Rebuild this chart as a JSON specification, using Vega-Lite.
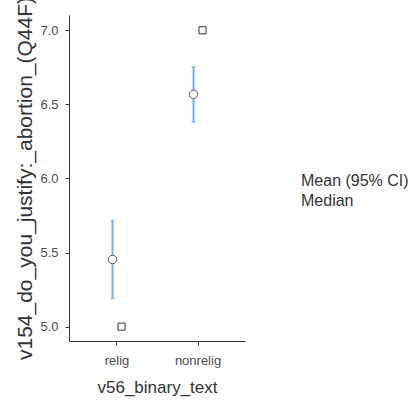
{
  "$schema": "https://vega.github.io/schema/vega-lite/v6.json",
  "autosize": {"type": "none"},
  "padding": {"left": 69, "top": 15, "right": 165, "bottom": 63},
  "width": 176,
  "height": 326,
  "background": "white",
  "config": {
    "view": {"stroke": null},
    "font": "Liberation Sans",
    "axis": {
      "domainColor": "#333333",
      "domainWidth": 1,
      "tickColor": "#333333",
      "tickSize": 4,
      "grid": false,
      "labelFont": "Liberation Sans",
      "labelFontSize": 13,
      "labelColor": "#4d4d4d",
      "titleFont": "Liberation Sans",
      "titleFontWeight": "normal",
      "titleColor": "#333333"
    }
  },
  "datasets": {
    "stats": [
      {"group": "relig", "stat": "Mean (95% CI)", "lower": 5.189, "upper": 5.716},
      {"group": "nonrelig", "stat": "Mean (95% CI)", "lower": 6.380, "upper": 6.755}
    ],
    "points": [
      {"group": "relig", "stat": "Mean (95% CI)", "value": 5.453},
      {"group": "nonrelig", "stat": "Mean (95% CI)", "value": 6.568},
      {"group": "relig", "stat": "Median", "value": 5.0},
      {"group": "nonrelig", "stat": "Median", "value": 7.0}
    ]
  },
  "resolve": {"scale": {"x": "independent"}, "axis": {"x": "independent"}},
  "layer": [
    {
      "data": {"name": "stats"},
      "mark": {"type": "tick", "opacity": 0},
      "encoding": {
        "x": {
          "field": "group",
          "type": "nominal",
          "sort": ["relig", "nonrelig"],
          "scale": {"type": "point", "padding": 0.5864, "align": 0.5},
          "axis": {
            "title": "v56_binary_text",
            "labelAngle": 0,
            "labelPadding": 9,
            "titleFontSize": 17,
            "titlePadding": 12
          }
        },
        "y": {
          "field": "lower",
          "type": "quantitative",
          "scale": {"domain": [4.903, 7.103], "nice": false, "zero": false},
          "axis": {
            "title": "v154_do_you_justify:_abortion_(Q44F)",
            "values": [5, 5.5, 6, 6.5, 7],
            "format": ".1f",
            "labelPadding": 7,
            "titleFontSize": 21,
            "titlePadding": 4
          }
        }
      }
    },
    {
      "data": {"name": "stats"},
      "mark": {"type": "rule", "color": "#7eaaf3", "strokeWidth": 2},
      "encoding": {
        "x": {
          "field": "group",
          "type": "nominal",
          "sort": ["relig", "nonrelig"],
          "scale": {"type": "point", "padding": 0.5864, "align": 0.458},
          "axis": null
        },
        "y": {"field": "lower", "type": "quantitative"},
        "y2": {"field": "upper"}
      }
    },
    {
      "data": {"name": "stats"},
      "mark": {"type": "tick", "color": "#7eaaf3", "size": 4, "thickness": 1.5},
      "encoding": {
        "x": {
          "field": "group",
          "type": "nominal",
          "sort": ["relig", "nonrelig"],
          "scale": {"type": "point", "padding": 0.5864, "align": 0.458},
          "axis": null
        },
        "y": {"field": "lower", "type": "quantitative"}
      }
    },
    {
      "data": {"name": "stats"},
      "mark": {"type": "tick", "color": "#7eaaf3", "size": 4, "thickness": 1.5},
      "encoding": {
        "x": {
          "field": "group",
          "type": "nominal",
          "sort": ["relig", "nonrelig"],
          "scale": {"type": "point", "padding": 0.5864, "align": 0.458},
          "axis": null
        },
        "y": {"field": "upper", "type": "quantitative"}
      }
    },
    {
      "data": {"name": "points"},
      "transform": [{"filter": "datum.stat === 'Mean (95% CI)'"}],
      "mark": {"type": "point", "filled": true, "fill": "white", "stroke": "#555555", "strokeWidth": 1, "size": 70, "opacity": 1},
      "encoding": {
        "x": {
          "field": "group",
          "type": "nominal",
          "sort": ["relig", "nonrelig"],
          "scale": {"type": "point", "padding": 0.5864, "align": 0.458},
          "axis": null
        },
        "y": {"field": "value", "type": "quantitative"},
        "shape": {
          "field": "stat",
          "type": "nominal",
          "scale": {"domain": ["Mean (95% CI)", "Median"], "range": ["circle", "square"]},
          "legend": {
            "title": " ",
            "titleFontSize": 10,
            "titlePadding": 148,
            "orient": "right",
            "offset": 30,
            "labelFont": "Liberation Sans",
            "labelFontSize": 16,
            "labelColor": "#333333",
            "labelOffset": 10,
            "rowPadding": 4,
            "symbolSize": 36,
            "symbolStrokeWidth": 1,
            "symbolStrokeColor": "#666666",
            "symbolFillColor": "white"
          }
        }
      }
    },
    {
      "data": {"name": "points"},
      "transform": [{"filter": "datum.stat === 'Median'"}],
      "mark": {"type": "point", "filled": true, "fill": "white", "stroke": "#333333", "strokeWidth": 1, "size": 50, "opacity": 1},
      "encoding": {
        "x": {
          "field": "group",
          "type": "nominal",
          "sort": ["relig", "nonrelig"],
          "scale": {"type": "point", "padding": 0.5864, "align": 0.553},
          "axis": null
        },
        "y": {"field": "value", "type": "quantitative"},
        "shape": {"field": "stat", "type": "nominal"}
      }
    }
  ]
}
